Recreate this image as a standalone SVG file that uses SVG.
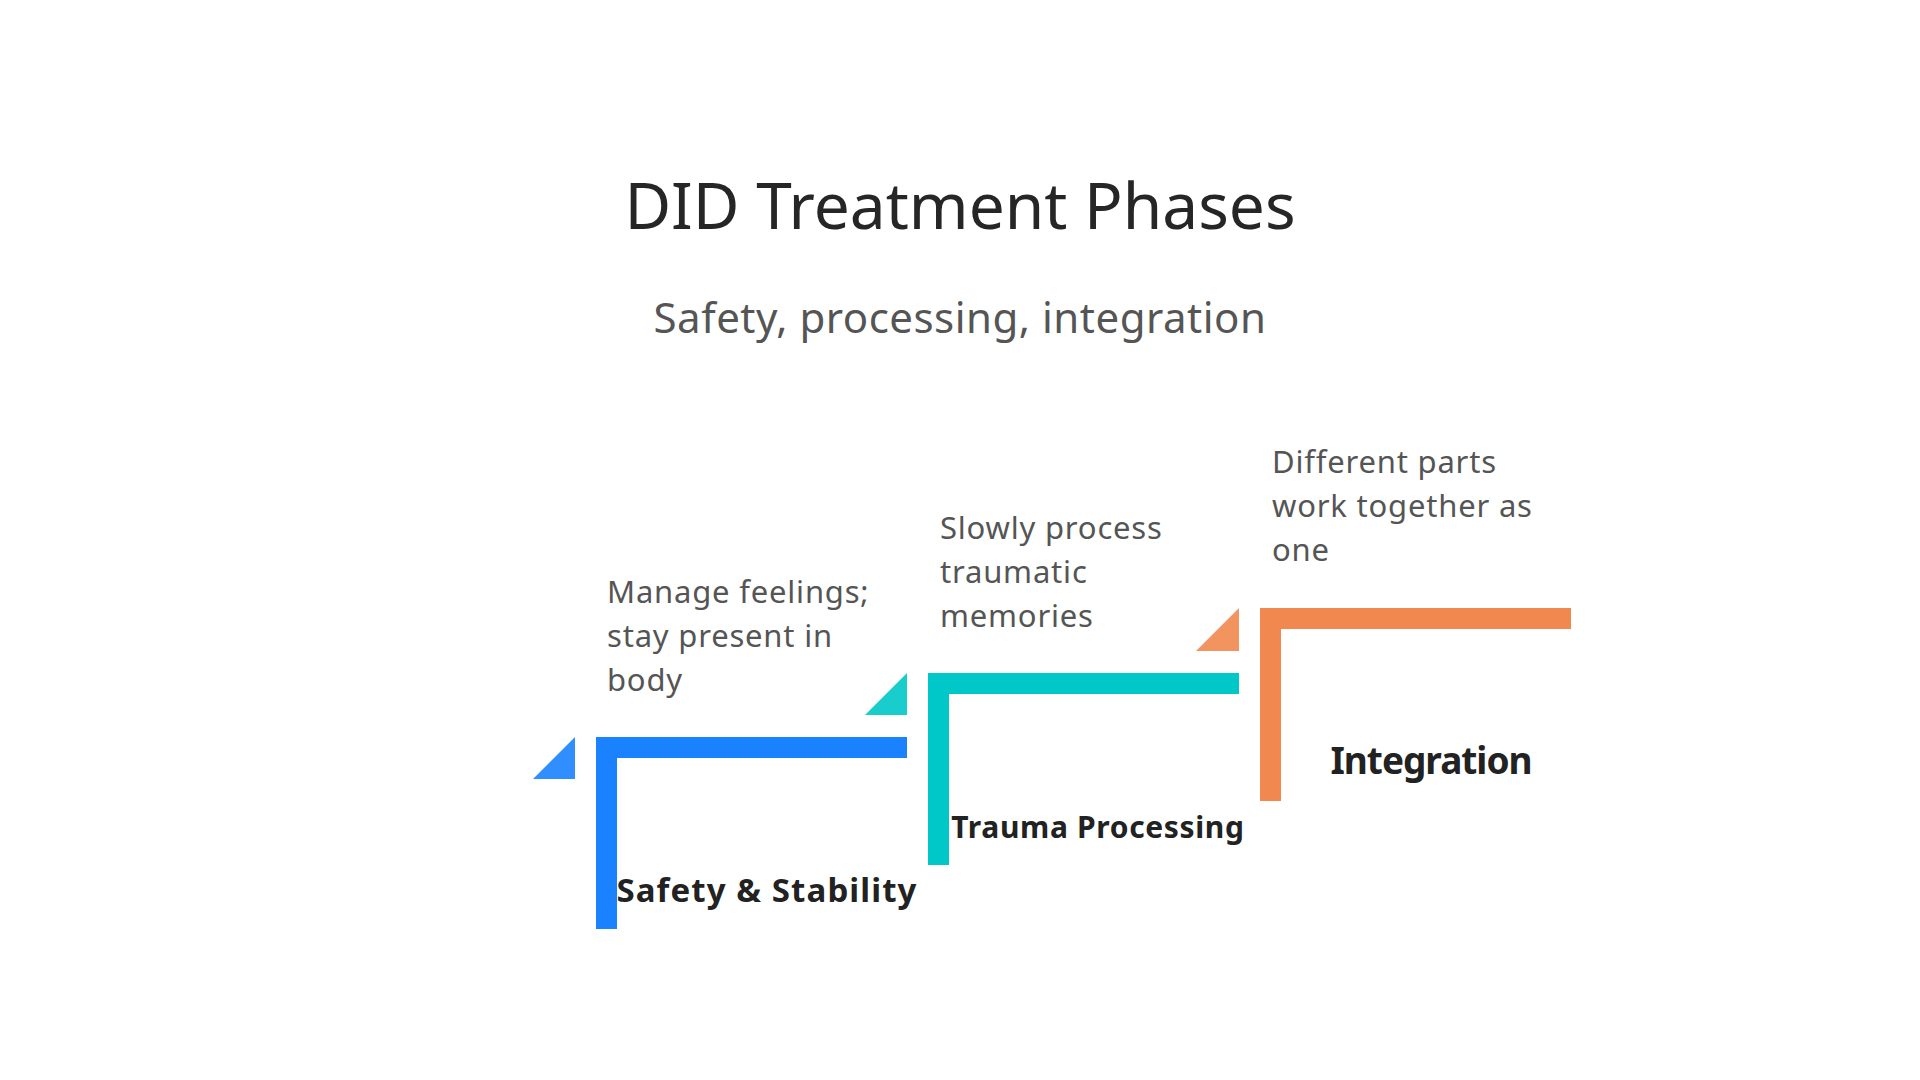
<svg xmlns="http://www.w3.org/2000/svg" width="1920" height="1080" viewBox="0 0 1920 1080">
<style>
text{font-family:"Noto Sans",sans-serif}
.title{font-size:64px;fill:#262626;text-anchor:middle}
.sub{font-size:42px;fill:#555555;text-anchor:middle;letter-spacing:0.5px}
.desc{font-size:31px;fill:#555555;letter-spacing:0.8px}
.label{font-weight:bold;fill:#222222;text-anchor:middle}
.tri{opacity:0.9}
</style>
<rect x="0" y="0" width="1920" height="1080" fill="#ffffff"/>
<text class="title" x="960" y="229">DID Treatment Phases</text>
<text class="sub" x="960" y="333">Safety, processing, integration</text>
<g id="connectors"/>
<g id="phase1">
<path d="M596 737H907V758H617V929H596Z" fill="#1a82ff"/>
<path class="tri" d="M575 737V779H533Z" fill="#1a82ff"/>
<text class="desc" x="607" y="603"><tspan x="607">Manage feelings;</tspan><tspan x="607" dy="44">stay present in</tspan><tspan x="607" dy="44">body</tspan></text>
<text class="label" x="767" y="902" font-size="33" letter-spacing="1.1">Safety &amp; Stability</text>
</g>
<g id="phase2">
<path d="M928 673H1239V694H949V865H928Z" fill="#00c8c8"/>
<path class="tri" d="M907 673V715H865Z" fill="#00c8c8"/>
<text class="desc" x="940" y="539"><tspan x="940">Slowly process</tspan><tspan x="940" dy="44">traumatic</tspan><tspan x="940" dy="44">memories</tspan></text>
<text class="label" x="1098" y="838" font-size="30" letter-spacing="0.65">Trauma Processing</text>
</g>
<g id="phase3">
<path d="M1260 608H1571V629H1281V801H1260Z" fill="#f0884f"/>
<path class="tri" d="M1239 608V651H1196Z" fill="#f0884f"/>
<text class="desc" x="1272" y="473"><tspan x="1272">Different parts</tspan><tspan x="1272" dy="44">work together as</tspan><tspan x="1272" dy="44">one</tspan></text>
<text class="label" x="1431" y="774" font-size="37" letter-spacing="-1">Integration</text>
</g>
</svg>
